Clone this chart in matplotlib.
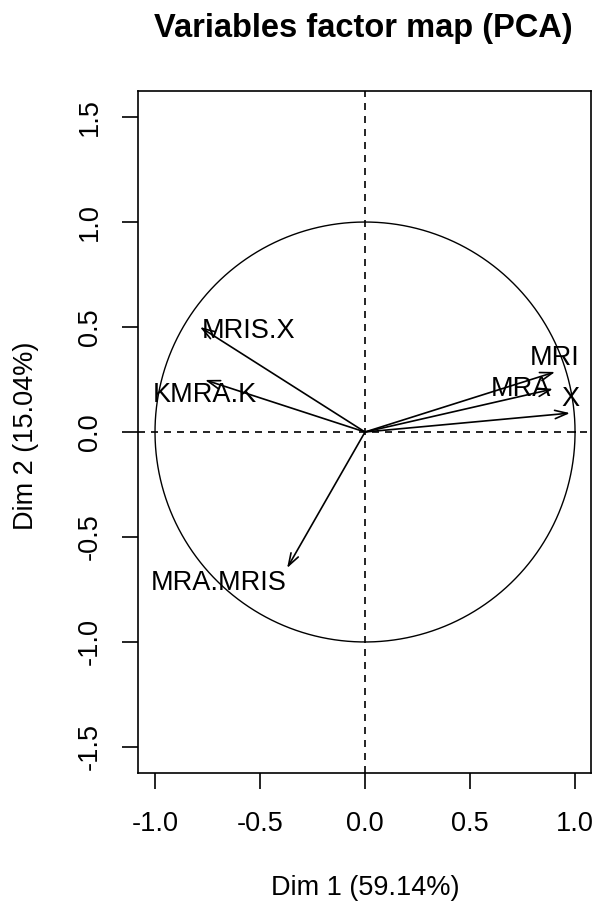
import matplotlib
matplotlib.use("Agg")
import matplotlib.pyplot as plt
import numpy as np

# ---- data ----
variables = ["MRIS.X", "KMRA.K", "MRI", "MRA", "X", "MRA.MRIS"]
dim1 = [-0.786, -0.762, 0.905, 0.895, 0.976, -0.371]
dim2 = [0.500, 0.248, 0.286, 0.205, 0.090, -0.648]
label_pos = ["right", "below", "above", "left", "above", "belowleft"]
xticks = [-1.0, -0.5, 0.0, 0.5, 1.0]
yticks = [-1.5, -1.0, -0.5, 0.0, 0.5, 1.0, 1.5]
title = "Variables factor map (PCA)"
xlabel = "Dim 1 (59.14%)"
ylabel = "Dim 2 (15.04%)"

plt.rcParams['font.family'] = ['Liberation Sans', 'DejaVu Sans']

W, H = 597, 909
fig = plt.figure(figsize=(W / 100, H / 100), dpi=100)
L, R, T, B = 138, 591, 91, 773
ax = fig.add_axes([L / W, 1 - B / H, (R - L) / W, (B - T) / H])
ax.set_xlim(-1.081, 1.076)
ax.set_ylim(-1.624, 1.624)

LW = 1.2
# circle
th = np.linspace(0, 2 * np.pi, 400)
ax.plot(np.cos(th), np.sin(th), color="black", lw=1.0)
# dashed axes
ax.axhline(0, color="black", lw=LW, ls=(0, (4.2, 3.6)))
ax.axvline(0, color="black", lw=LW, ls=(0, (4.2, 3.6)))

FS = 19.5
offs = {
    "right": ((1, -3), "left", "center"),
    "below": ((0, -11), "center", "center"),
    "above": ((0, 10), "center", "center"),
    "left": ((-1, 0), "right", "center"),
    "belowleft": ((0, -11), "right", "center"),
}
for name, x, y, p in zip(variables, dim1, dim2, label_pos):
    ax.annotate("", xy=(x, y), xytext=(0, 0),
                arrowprops=dict(arrowstyle="->,head_length=0.9,head_width=0.3",
                                color="black", lw=LW, shrinkA=0, shrinkB=0))
    (dx, dy), ha, va = offs[p]
    ax.annotate(name, xy=(x, y), xytext=(dx, dy), textcoords="offset points",
                ha=ha, va=va, fontsize=FS)

ax.set_xticks(xticks)
ax.set_xticklabels([f"{v:.1f}" for v in xticks])
ax.set_yticks(yticks)
ax.set_yticklabels([f"{v:.1f}" for v in yticks], rotation=90, va="center")
ax.tick_params(direction="out", length=11.5, width=LW, labelsize=FS, pad=16)
ax.tick_params(axis="y", pad=14)
for s in ax.spines.values():
    s.set_linewidth(LW)

fig.text(363 / W, 1 - 29 / H, title, ha="center", va="center",
         fontsize=23.5, fontweight="bold")
fig.text(365 / W, 1 - 888 / H, xlabel, ha="center", va="center", fontsize=FS)
fig.text(26 / W, 1 - 436 / H, ylabel, ha="center", va="center", fontsize=FS,
         rotation=90)

fig.savefig("out.png", dpi=100)
